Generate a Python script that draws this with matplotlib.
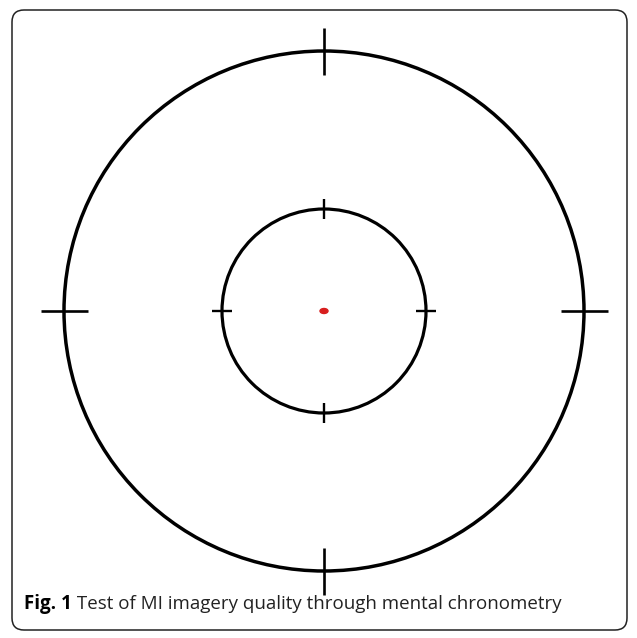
import matplotlib.pyplot as plt
from matplotlib.patches import Circle, Ellipse, FancyBboxPatch

# figure geometry in pixels (origin top-left)
W, H = 637, 638
center = (324, 311)
ring_radii = [260, 102]          # outer, inner
tick_lengths = [47, 20]          # cross ticks at N/E/S/W on each ring
ring_width = [2.5, 2.3]
tick_width = [1.9, 1.7]
caption_bold = 'Fig. 1'
caption_text = ' Test of MI imagery quality through mental chronometry'

fig = plt.figure(figsize=(W / 100, H / 100), dpi=100)
ax = fig.add_axes([0, 0, 1, 1])
ax.set_xlim(0, W)
ax.set_ylim(H, 0)
ax.set_aspect('equal')
ax.axis('off')

# rounded frame
frame = FancyBboxPatch((12, 10), 615, 620, boxstyle='round,pad=0,rounding_size=12',
                       fill=False, edgecolor='#222222', linewidth=1.1)
ax.add_patch(frame)

cx, cy = center
for r, tl, lw, tw in zip(ring_radii, tick_lengths, ring_width, tick_width):
    ax.add_patch(Circle(center, r, fill=False, edgecolor='black', linewidth=lw))
    h = tl / 2
    # top / bottom ticks (vertical)
    for sy in (-1, 1):
        ax.plot([cx, cx], [cy + sy * r - h, cy + sy * r + h], color='black', lw=tw,
                solid_capstyle='butt')
    # left / right ticks (horizontal)
    for sx in (-1, 1):
        ax.plot([cx + sx * r - h, cx + sx * r + h], [cy, cy], color='black', lw=tw,
                solid_capstyle='butt')

# red fixation point
ax.add_patch(Ellipse(center, 8, 5, color='#d81e1e'))

fam = ['Open Sans', 'DejaVu Sans']
fs = 13.5
t1 = ax.text(24, 604, caption_bold, fontsize=fs, fontweight='bold', family=fam,
             va='center', ha='left', color='black')
fig.canvas.draw()
bb = t1.get_window_extent()
x_end = bb.x1
t2 = ax.annotate(caption_text, xy=(x_end, H - 604), xycoords='figure pixels',
                 fontsize=fs, family=fam, va='center', ha='left', color='#222222')

fig.savefig('out.png', dpi=100)
